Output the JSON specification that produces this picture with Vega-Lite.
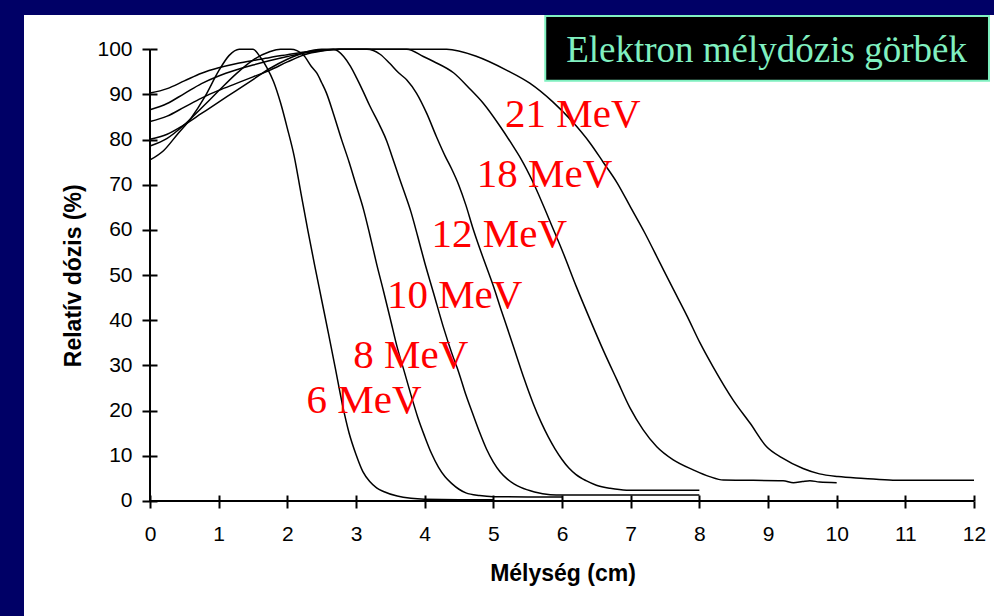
{
  "$schema": "https://vega.github.io/schema/vega-lite/v6.json",
  "width": 970,
  "height": 601,
  "autosize": {"type": "none"},
  "padding": {"left": 24, "top": 15, "right": 0, "bottom": 0},
  "background": "#000066",
  "config": {"view": {"fill": "white", "stroke": null}},
  "datasets": {
    "curves": [
      {"energy": "6 MeV", "depth": 0, "dose": 75.5},
      {"energy": "6 MeV", "depth": 0.2, "dose": 77.6},
      {"energy": "6 MeV", "depth": 0.4, "dose": 81.2},
      {"energy": "6 MeV", "depth": 0.6, "dose": 84.8},
      {"energy": "6 MeV", "depth": 0.8, "dose": 89.5},
      {"energy": "6 MeV", "depth": 1.0, "dose": 95.2},
      {"energy": "6 MeV", "depth": 1.15, "dose": 98.6},
      {"energy": "6 MeV", "depth": 1.3, "dose": 100},
      {"energy": "6 MeV", "depth": 1.5, "dose": 100},
      {"energy": "6 MeV", "depth": 1.6, "dose": 98.4},
      {"energy": "6 MeV", "depth": 1.7, "dose": 96},
      {"energy": "6 MeV", "depth": 1.8, "dose": 92.8},
      {"energy": "6 MeV", "depth": 1.9, "dose": 88.2},
      {"energy": "6 MeV", "depth": 2.0, "dose": 82.5},
      {"energy": "6 MeV", "depth": 2.1, "dose": 76.3},
      {"energy": "6 MeV", "depth": 2.2, "dose": 68},
      {"energy": "6 MeV", "depth": 2.3, "dose": 59.8},
      {"energy": "6 MeV", "depth": 2.4, "dose": 52},
      {"energy": "6 MeV", "depth": 2.5, "dose": 44.5},
      {"energy": "6 MeV", "depth": 2.6, "dose": 37},
      {"energy": "6 MeV", "depth": 2.7, "dose": 29.3},
      {"energy": "6 MeV", "depth": 2.8, "dose": 21.5},
      {"energy": "6 MeV", "depth": 2.9, "dose": 15},
      {"energy": "6 MeV", "depth": 3.0, "dose": 10.3},
      {"energy": "6 MeV", "depth": 3.1, "dose": 6.5},
      {"energy": "6 MeV", "depth": 3.2, "dose": 4.3},
      {"energy": "6 MeV", "depth": 3.3, "dose": 2.9},
      {"energy": "6 MeV", "depth": 3.4, "dose": 2.1},
      {"energy": "6 MeV", "depth": 3.6, "dose": 1.1},
      {"energy": "6 MeV", "depth": 3.8, "dose": 0.6},
      {"energy": "6 MeV", "depth": 4.0, "dose": 0.4},
      {"energy": "6 MeV", "depth": 4.5, "dose": 0.3},
      {"energy": "6 MeV", "depth": 5.0, "dose": 0.3},

      {"energy": "8 MeV", "depth": 0, "dose": 78.6},
      {"energy": "8 MeV", "depth": 0.25, "dose": 80.3},
      {"energy": "8 MeV", "depth": 0.5, "dose": 83.3},
      {"energy": "8 MeV", "depth": 0.75, "dose": 87},
      {"energy": "8 MeV", "depth": 1.0, "dose": 90.8},
      {"energy": "8 MeV", "depth": 1.25, "dose": 94.5},
      {"energy": "8 MeV", "depth": 1.5, "dose": 97.6},
      {"energy": "8 MeV", "depth": 1.75, "dose": 99.5},
      {"energy": "8 MeV", "depth": 1.9, "dose": 100},
      {"energy": "8 MeV", "depth": 2.05, "dose": 100},
      {"energy": "8 MeV", "depth": 2.23, "dose": 98.8},
      {"energy": "8 MeV", "depth": 2.35, "dose": 96.2},
      {"energy": "8 MeV", "depth": 2.43, "dose": 94.7},
      {"energy": "8 MeV", "depth": 2.5, "dose": 92.6},
      {"energy": "8 MeV", "depth": 2.57, "dose": 90.3},
      {"energy": "8 MeV", "depth": 2.67, "dose": 85.8},
      {"energy": "8 MeV", "depth": 2.79, "dose": 80},
      {"energy": "8 MeV", "depth": 2.9, "dose": 75},
      {"energy": "8 MeV", "depth": 3.0, "dose": 70},
      {"energy": "8 MeV", "depth": 3.11, "dose": 64.5},
      {"energy": "8 MeV", "depth": 3.2, "dose": 59},
      {"energy": "8 MeV", "depth": 3.3, "dose": 52.5},
      {"energy": "8 MeV", "depth": 3.4, "dose": 46.5},
      {"energy": "8 MeV", "depth": 3.5, "dose": 40.3},
      {"energy": "8 MeV", "depth": 3.6, "dose": 34},
      {"energy": "8 MeV", "depth": 3.7, "dose": 28.8},
      {"energy": "8 MeV", "depth": 3.8, "dose": 23.5},
      {"energy": "8 MeV", "depth": 3.9, "dose": 18.5},
      {"energy": "8 MeV", "depth": 4.0, "dose": 14.3},
      {"energy": "8 MeV", "depth": 4.1, "dose": 10.5},
      {"energy": "8 MeV", "depth": 4.2, "dose": 7.5},
      {"energy": "8 MeV", "depth": 4.3, "dose": 5.3},
      {"energy": "8 MeV", "depth": 4.4, "dose": 3.8},
      {"energy": "8 MeV", "depth": 4.5, "dose": 2.6},
      {"energy": "8 MeV", "depth": 4.6, "dose": 1.8},
      {"energy": "8 MeV", "depth": 4.8, "dose": 1.2},
      {"energy": "8 MeV", "depth": 5.0, "dose": 0.95},
      {"energy": "8 MeV", "depth": 5.5, "dose": 0.9},
      {"energy": "8 MeV", "depth": 6.0, "dose": 0.9},

      {"energy": "10 MeV", "depth": 0, "dose": 80.1},
      {"energy": "10 MeV", "depth": 0.25, "dose": 81.2},
      {"energy": "10 MeV", "depth": 0.5, "dose": 83.3},
      {"energy": "10 MeV", "depth": 0.75, "dose": 85.8},
      {"energy": "10 MeV", "depth": 1.0, "dose": 88.3},
      {"energy": "10 MeV", "depth": 1.25, "dose": 90.8},
      {"energy": "10 MeV", "depth": 1.5, "dose": 93.3},
      {"energy": "10 MeV", "depth": 1.75, "dose": 95.8},
      {"energy": "10 MeV", "depth": 2.0, "dose": 97.8},
      {"energy": "10 MeV", "depth": 2.25, "dose": 99.3},
      {"energy": "10 MeV", "depth": 2.5, "dose": 100},
      {"energy": "10 MeV", "depth": 2.67, "dose": 100},
      {"energy": "10 MeV", "depth": 2.82, "dose": 98.4},
      {"energy": "10 MeV", "depth": 2.92, "dose": 96.2},
      {"energy": "10 MeV", "depth": 3.01, "dose": 93.6},
      {"energy": "10 MeV", "depth": 3.1, "dose": 90.8},
      {"energy": "10 MeV", "depth": 3.2, "dose": 87.5},
      {"energy": "10 MeV", "depth": 3.35, "dose": 83},
      {"energy": "10 MeV", "depth": 3.45, "dose": 79.6},
      {"energy": "10 MeV", "depth": 3.52, "dose": 76.5},
      {"energy": "10 MeV", "depth": 3.62, "dose": 72},
      {"energy": "10 MeV", "depth": 3.7, "dose": 68.5},
      {"energy": "10 MeV", "depth": 3.8, "dose": 64},
      {"energy": "10 MeV", "depth": 3.9, "dose": 58.5},
      {"energy": "10 MeV", "depth": 4.0, "dose": 52.8},
      {"energy": "10 MeV", "depth": 4.13, "dose": 46},
      {"energy": "10 MeV", "depth": 4.27, "dose": 38.6},
      {"energy": "10 MeV", "depth": 4.4, "dose": 32.5},
      {"energy": "10 MeV", "depth": 4.5, "dose": 28.3},
      {"energy": "10 MeV", "depth": 4.6, "dose": 23.5},
      {"energy": "10 MeV", "depth": 4.7, "dose": 19.3},
      {"energy": "10 MeV", "depth": 4.8, "dose": 15.2},
      {"energy": "10 MeV", "depth": 4.9, "dose": 11.5},
      {"energy": "10 MeV", "depth": 5.0, "dose": 8.6},
      {"energy": "10 MeV", "depth": 5.1, "dose": 6.4},
      {"energy": "10 MeV", "depth": 5.2, "dose": 4.9},
      {"energy": "10 MeV", "depth": 5.3, "dose": 3.8},
      {"energy": "10 MeV", "depth": 5.4, "dose": 3.0},
      {"energy": "10 MeV", "depth": 5.6, "dose": 2.0},
      {"energy": "10 MeV", "depth": 5.83, "dose": 1.4},
      {"energy": "10 MeV", "depth": 6.0, "dose": 1.3},
      {"energy": "10 MeV", "depth": 7.0, "dose": 1.3},
      {"energy": "10 MeV", "depth": 8.0, "dose": 1.3},

      {"energy": "12 MeV", "depth": 0, "dose": 84},
      {"energy": "12 MeV", "depth": 0.25, "dose": 85.2},
      {"energy": "12 MeV", "depth": 0.5, "dose": 87.2},
      {"energy": "12 MeV", "depth": 0.75, "dose": 89.2},
      {"energy": "12 MeV", "depth": 1.0, "dose": 90.9},
      {"energy": "12 MeV", "depth": 1.25, "dose": 92.4},
      {"energy": "12 MeV", "depth": 1.5, "dose": 93.9},
      {"energy": "12 MeV", "depth": 1.75, "dose": 95.4},
      {"energy": "12 MeV", "depth": 2.0, "dose": 97.2},
      {"energy": "12 MeV", "depth": 2.25, "dose": 98.8},
      {"energy": "12 MeV", "depth": 2.5, "dose": 99.6},
      {"energy": "12 MeV", "depth": 2.75, "dose": 100},
      {"energy": "12 MeV", "depth": 3.16, "dose": 100},
      {"energy": "12 MeV", "depth": 3.35, "dose": 98.9},
      {"energy": "12 MeV", "depth": 3.49, "dose": 96.9},
      {"energy": "12 MeV", "depth": 3.62, "dose": 94.8},
      {"energy": "12 MeV", "depth": 3.74, "dose": 93.2},
      {"energy": "12 MeV", "depth": 3.88, "dose": 90.3},
      {"energy": "12 MeV", "depth": 4.03, "dose": 85.8},
      {"energy": "12 MeV", "depth": 4.17, "dose": 80.7},
      {"energy": "12 MeV", "depth": 4.3, "dose": 76.3},
      {"energy": "12 MeV", "depth": 4.39, "dose": 73.6},
      {"energy": "12 MeV", "depth": 4.5, "dose": 69.8},
      {"energy": "12 MeV", "depth": 4.6, "dose": 65.5},
      {"energy": "12 MeV", "depth": 4.7, "dose": 60.5},
      {"energy": "12 MeV", "depth": 4.8, "dose": 56},
      {"energy": "12 MeV", "depth": 4.9, "dose": 51.8},
      {"energy": "12 MeV", "depth": 5.0, "dose": 47.6},
      {"energy": "12 MeV", "depth": 5.12, "dose": 42},
      {"energy": "12 MeV", "depth": 5.24, "dose": 36.6},
      {"energy": "12 MeV", "depth": 5.34, "dose": 32},
      {"energy": "12 MeV", "depth": 5.45, "dose": 27},
      {"energy": "12 MeV", "depth": 5.58, "dose": 21.6},
      {"energy": "12 MeV", "depth": 5.7, "dose": 17.3},
      {"energy": "12 MeV", "depth": 5.8, "dose": 14.2},
      {"energy": "12 MeV", "depth": 5.9, "dose": 11.5},
      {"energy": "12 MeV", "depth": 6.0, "dose": 9.2},
      {"energy": "12 MeV", "depth": 6.1, "dose": 7.3},
      {"energy": "12 MeV", "depth": 6.2, "dose": 5.9},
      {"energy": "12 MeV", "depth": 6.35, "dose": 4.5},
      {"energy": "12 MeV", "depth": 6.5, "dose": 3.5},
      {"energy": "12 MeV", "depth": 6.7, "dose": 2.8},
      {"energy": "12 MeV", "depth": 6.94, "dose": 2.4},
      {"energy": "12 MeV", "depth": 8.0, "dose": 2.4},

      {"energy": "18 MeV", "depth": 0, "dose": 86.6},
      {"energy": "18 MeV", "depth": 0.25, "dose": 88},
      {"energy": "18 MeV", "depth": 0.5, "dose": 90.2},
      {"energy": "18 MeV", "depth": 0.75, "dose": 92.4},
      {"energy": "18 MeV", "depth": 1.0, "dose": 94.1},
      {"energy": "18 MeV", "depth": 1.25, "dose": 95.4},
      {"energy": "18 MeV", "depth": 1.5, "dose": 96.5},
      {"energy": "18 MeV", "depth": 1.75, "dose": 97.5},
      {"energy": "18 MeV", "depth": 2.0, "dose": 98.4},
      {"energy": "18 MeV", "depth": 2.25, "dose": 99.2},
      {"energy": "18 MeV", "depth": 2.5, "dose": 99.7},
      {"energy": "18 MeV", "depth": 2.75, "dose": 100},
      {"energy": "18 MeV", "depth": 3.74, "dose": 100},
      {"energy": "18 MeV", "depth": 3.98, "dose": 98.4},
      {"energy": "18 MeV", "depth": 4.13, "dose": 97.3},
      {"energy": "18 MeV", "depth": 4.42, "dose": 94.8},
      {"energy": "18 MeV", "depth": 4.66, "dose": 91.2},
      {"energy": "18 MeV", "depth": 4.85, "dose": 88.1},
      {"energy": "18 MeV", "depth": 5.1, "dose": 82.9},
      {"energy": "18 MeV", "depth": 5.29, "dose": 78.5},
      {"energy": "18 MeV", "depth": 5.4, "dose": 75.8},
      {"energy": "18 MeV", "depth": 5.58, "dose": 70.5},
      {"energy": "18 MeV", "depth": 5.72, "dose": 65.7},
      {"energy": "18 MeV", "depth": 5.85, "dose": 61},
      {"energy": "18 MeV", "depth": 6.02, "dose": 54.8},
      {"energy": "18 MeV", "depth": 6.21, "dose": 47.4},
      {"energy": "18 MeV", "depth": 6.41, "dose": 40.1},
      {"energy": "18 MeV", "depth": 6.6, "dose": 33.4},
      {"energy": "18 MeV", "depth": 6.8, "dose": 26.8},
      {"energy": "18 MeV", "depth": 6.99, "dose": 20.6},
      {"energy": "18 MeV", "depth": 7.18, "dose": 15.8},
      {"energy": "18 MeV", "depth": 7.38, "dose": 12.0},
      {"energy": "18 MeV", "depth": 7.62, "dose": 9.1},
      {"energy": "18 MeV", "depth": 7.91, "dose": 6.9},
      {"energy": "18 MeV", "depth": 8.15, "dose": 5.4},
      {"energy": "18 MeV", "depth": 8.35, "dose": 4.65},
      {"energy": "18 MeV", "depth": 9.22, "dose": 4.5},
      {"energy": "18 MeV", "depth": 9.37, "dose": 4.06},
      {"energy": "18 MeV", "depth": 9.5, "dose": 4.3},
      {"energy": "18 MeV", "depth": 9.61, "dose": 4.5},
      {"energy": "18 MeV", "depth": 9.75, "dose": 4.2},
      {"energy": "18 MeV", "depth": 10.0, "dose": 4.06},

      {"energy": "21 MeV", "depth": 0, "dose": 90.3},
      {"energy": "21 MeV", "depth": 0.25, "dose": 91.3},
      {"energy": "21 MeV", "depth": 0.5, "dose": 93},
      {"energy": "21 MeV", "depth": 0.75, "dose": 94.7},
      {"energy": "21 MeV", "depth": 1.0, "dose": 95.9},
      {"energy": "21 MeV", "depth": 1.25, "dose": 96.8},
      {"energy": "21 MeV", "depth": 1.5, "dose": 97.5},
      {"energy": "21 MeV", "depth": 1.75, "dose": 98.2},
      {"energy": "21 MeV", "depth": 2.0, "dose": 98.8},
      {"energy": "21 MeV", "depth": 2.25, "dose": 99.4},
      {"energy": "21 MeV", "depth": 2.5, "dose": 99.8},
      {"energy": "21 MeV", "depth": 2.75, "dose": 100},
      {"energy": "21 MeV", "depth": 4.32, "dose": 100},
      {"energy": "21 MeV", "depth": 4.76, "dose": 98.4},
      {"energy": "21 MeV", "depth": 5.19, "dose": 95.4},
      {"energy": "21 MeV", "depth": 5.53, "dose": 92.5},
      {"energy": "21 MeV", "depth": 5.87, "dose": 88.3},
      {"energy": "21 MeV", "depth": 6.15, "dose": 84},
      {"energy": "21 MeV", "depth": 6.41, "dose": 79.2},
      {"energy": "21 MeV", "depth": 6.6, "dose": 75},
      {"energy": "21 MeV", "depth": 6.8, "dose": 70.5},
      {"energy": "21 MeV", "depth": 7.0, "dose": 65},
      {"energy": "21 MeV", "depth": 7.2, "dose": 59.5},
      {"energy": "21 MeV", "depth": 7.43, "dose": 52.6},
      {"energy": "21 MeV", "depth": 7.6, "dose": 47.5},
      {"energy": "21 MeV", "depth": 7.82, "dose": 41},
      {"energy": "21 MeV", "depth": 8.01, "dose": 35},
      {"energy": "21 MeV", "depth": 8.2, "dose": 29.7},
      {"energy": "21 MeV", "depth": 8.49, "dose": 22.4},
      {"energy": "21 MeV", "depth": 8.74, "dose": 17.2},
      {"energy": "21 MeV", "depth": 8.98, "dose": 12.0},
      {"energy": "21 MeV", "depth": 9.2, "dose": 9.6},
      {"energy": "21 MeV", "depth": 9.51, "dose": 7.2},
      {"energy": "21 MeV", "depth": 9.75, "dose": 6.0},
      {"energy": "21 MeV", "depth": 10.02, "dose": 5.4},
      {"energy": "21 MeV", "depth": 10.4, "dose": 5.0},
      {"energy": "21 MeV", "depth": 10.82, "dose": 4.6},
      {"energy": "21 MeV", "depth": 12.0, "dose": 4.6}
    ],
    "labels": [
      {"label": "21 MeV", "depth": 5.17, "dose": 82.8},
      {"label": "18 MeV", "depth": 4.76, "dose": 69.6},
      {"label": "12 MeV", "depth": 4.10, "dose": 56.2},
      {"label": "10 MeV", "depth": 3.45, "dose": 42.7},
      {"label": "8 MeV", "depth": 2.96, "dose": 29.4},
      {"label": "6 MeV", "depth": 2.28, "dose": 19.4}
    ],
    "titlebox": [
      {"title": "Elektron mélydózis görbék", "x1": 5.756, "x2": 12.218, "y1": 93.05, "y2": 107.37, "tx": 8.978, "ty": 97.26}
    ]
  },
  "layer": [
    {
      "data": {"name": "curves"},
      "mark": {"type": "line", "color": "black", "strokeWidth": 1.5, "interpolate": "monotone"},
      "encoding": {
        "x": {
          "field": "depth", "type": "quantitative",
          "scale": {"domain": [-1.835, 12.291], "nice": false, "zero": false},
          "axis": {
            "orient": "bottom", "offset": -115,
            "values": [0,1,2,3,4,5,6,7,8,9,10,11,12],
            "domain": false, "grid": false,
            "tickSize": 7, "tickWidth": 2, "tickColor": "black",
            "labelFont": "Liberation Sans", "labelFontSize": 21, "labelColor": "black",
            "labelPadding": 15, "labelFlush": false, "labelOverlap": false,
            "title": "Mélység (cm)", "titleFont": "Liberation Sans", "titleFontSize": 23,
            "titleFontWeight": "bold", "titleColor": "black",
            "titleX": 538.5, "titleY": 79, "titleAlign": "center", "titleBaseline": "alphabetic"
          }
        },
        "y": {
          "field": "dose", "type": "quantitative",
          "scale": {"domain": [-25.46, 107.59], "nice": false, "zero": false},
          "axis": {
            "orient": "left", "offset": -126,
            "values": [0,10,20,30,40,50,60,70,80,90,100],
            "domain": false, "grid": false,
            "tickSize": 8, "tickWidth": 2, "tickColor": "black",
            "labelFont": "Liberation Sans", "labelFontSize": 21, "labelColor": "black",
            "labelPadding": 10, "labelOverlap": false, "labelFlush": false,
            "title": "Relatív dózis (%)", "titleFont": "Liberation Sans", "titleFontSize": 23,
            "titleFontWeight": "bold", "titleColor": "black",
            "titleAngle": -90, "titleX": -70, "titleY": 260.3, "titleAlign": "center", "titleBaseline": "alphabetic"
          }
        },
        "detail": {"field": "energy"}
      }
    },
    {
      "data": {"values": [{}]},
      "mark": {"type": "rule", "color": "black", "strokeWidth": 2},
      "encoding": {
        "x": {
          "datum": 0, "type": "quantitative",
          "scale": {"domain": [-1.835, 12.291], "nice": false, "zero": false},
          "axis": {
            "orient": "top", "offset": -486,
            "values": [0,1,2,3,4,5,6,7,8,9,10,11,12],
            "domain": false, "grid": false, "labels": false, "title": null,
            "tickSize": 6, "tickWidth": 2, "tickColor": "black"
          }
        },
        "x2": {"datum": 12},
        "y": {
          "datum": 0, "type": "quantitative",
          "scale": {"domain": [-25.46, 107.59], "nice": false, "zero": false},
          "axis": {
            "orient": "right", "offset": -844,
            "values": [0,10,20,30,40,50,60,70,80,90,100],
            "domain": false, "grid": false, "labels": false, "title": null,
            "tickSize": 7, "tickWidth": 2, "tickColor": "black"
          }
        }
      }
    },
    {
      "data": {"values": [{}]},
      "mark": {"type": "rule", "color": "black", "strokeWidth": 2},
      "encoding": {
        "x": {"datum": 0, "type": "quantitative", "axis": null},
        "y": {"datum": 0, "type": "quantitative", "axis": null},
        "y2": {"datum": 100}
      }
    },
    {
      "data": {"name": "labels"},
      "mark": {"type": "text", "align": "left", "baseline": "alphabetic", "font": "Liberation Serif", "fontSize": 41, "color": "#ff0000"},
      "encoding": {
        "x": {"field": "depth", "type": "quantitative", "axis": null},
        "y": {"field": "dose", "type": "quantitative", "axis": null},
        "text": {"field": "label"}
      }
    },
    {
      "data": {"name": "titlebox"},
      "mark": {"type": "rect", "fill": "black", "stroke": "#80f0c0", "strokeWidth": 2},
      "encoding": {
        "x": {"field": "x1", "type": "quantitative", "axis": null},
        "x2": {"field": "x2"},
        "y": {"field": "y1", "type": "quantitative", "axis": null},
        "y2": {"field": "y2"}
      }
    },
    {
      "data": {"name": "titlebox"},
      "mark": {"type": "text", "align": "center", "baseline": "alphabetic", "font": "Liberation Serif", "fontSize": 37, "color": "#80f0c0"},
      "encoding": {
        "x": {"field": "tx", "type": "quantitative", "axis": null},
        "y": {"field": "ty", "type": "quantitative", "axis": null},
        "text": {"field": "title"}
      }
    }
  ],
  "resolve": {"axis": {"x": "independent", "y": "independent"}}
}
